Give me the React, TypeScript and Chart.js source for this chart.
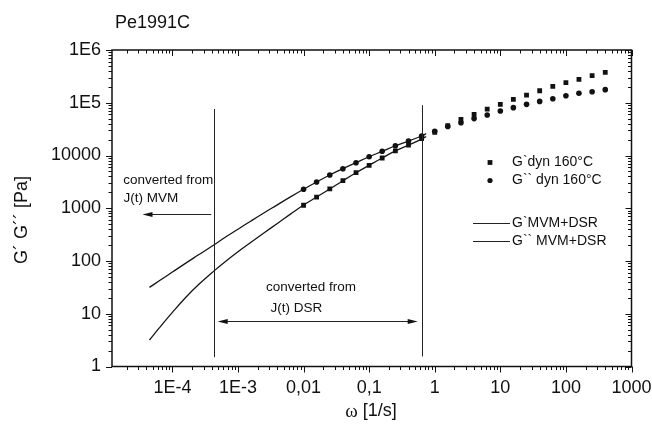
import { useEffect, useRef } from 'react';
import { Chart, registerables } from 'chart.js';

Chart.register(...registerables);

// ---------- text ----------
const TITLE = 'Pe1991C';
const X_TITLE_SYMBOL = 'ω';
const X_TITLE_UNIT = ' [1/s]';
const Y_TITLE = 'G´ G´´ [Pa]';
const legendLabels = ['G`dyn 160°C', 'G`` dyn 160°C', 'G`MVM+DSR', 'G`` MVM+DSR'];
const mvmText = ['converted from', 'J(t) MVM'];
const dsrText = ['converted from', 'J(t) DSR'];

// ---------- axes ----------
const X_MIN = 1.2e-5;
const X_MAX = 1000;
const Y_MIN = 1;
const Y_MAX = 1e6;
const xTickValues = [1e-4, 1e-3, 1e-2, 0.1, 1, 10, 100, 1000];
const xTickLabels = ['1E-4', '1E-3', '0,01', '0,1', '1', '10', '100', '1000'];
const yTickValues = [1, 10, 100, 1000, 1e4, 1e5, 1e6];
const yTickLabels = ['1', '10', '100', '1000', '10000', '1E5', '1E6'];

// ---------- data: dynamic measurements ----------
const dynFreq = [
  0.01, 0.0158, 0.0251, 0.0398, 0.0631, 0.1, 0.158, 0.251, 0.398, 0.631,
  1, 1.58, 2.51, 3.98, 6.31, 10, 15.8, 25.1, 39.8, 63.1, 100, 158, 251, 398,
];
const dynGp = [
  1140, 1630, 2320, 3330, 4720, 6520, 8970, 12200, 15800, 20900,
  27500, 36700, 48500, 60300, 75900, 93300, 116000, 140000, 169000, 204000,
  240000, 278000, 326000, 378000,
];
const dynGpp = [
  2290, 3150, 4270, 5620, 7310, 9480, 12000, 15300, 18800, 23400,
  28800, 35500, 41900, 50100, 58600, 69800, 80700, 93300, 106000, 119000,
  136000, 151000, 162000, 177000,
];

// ---------- data: MVM+DSR curves ----------
const curveFreq = [
  4.47e-5, 6.31e-5, 1e-4, 1.58e-4, 2.51e-4, 4.27e-4, 6.31e-4, 1e-3, 1.58e-3,
  2.51e-3, 3.98e-3, 6.31e-3, 0.01, 0.0158, 0.0251, 0.0398, 0.0631, 0.1,
  0.158, 0.251, 0.398, 0.631, 0.74,
];
const curveGp = [
  3.18, 5.38, 10.6, 20.1, 35.7, 64.3, 96.2, 150, 227, 342, 515, 773, 1150,
  1630, 2320, 3330, 4720, 6520, 8970, 12200, 15800, 20400, 22900,
];
const curveGpp = [
  31.6, 42.1, 61.7, 90.2, 131, 201, 279, 401, 575, 822, 1160, 1640, 2290,
  3150, 4270, 5620, 7310, 9480, 12000, 15300, 18800, 23400, 26000,
];

// ---------- annotations (data coordinates) ----------
const boundaryFreq = [4.25e-4, 0.64];
const boundaryTop = [7.6e4, 9.0e4];
const boundaryBottom = [1.5, 1.55];
const mvmArrow = [3.9e-4, 3.5e-5, 780]; // from x, to x, y
const dsrArrow = [4.9e-4, 0.55, 7.3]; // x1, x2, y
const mvmTextPos = [1.78e-5, 3330, 1.8e-5, 1565];
const dsrTextPos = [2.68e-3, 31.5, 3.12e-3, 12.7];

const INK = '#111111';
const SANS = '"Liberation Sans", Arial, Helvetica, sans-serif';
const SERIF = '"Liberation Serif", "Times New Roman", serif';
const f = (s: number) => `${s}px ${SANS}`;

function minorValues(min: number, max: number) {
  const out: number[] = [];
  for (let d = Math.floor(Math.log10(min)); d <= Math.ceil(Math.log10(max)); d++) {
    for (let k = 2; k <= 9; k++) {
      const v = k * Math.pow(10, d);
      if (v > min && v < max) out.push(v);
    }
  }
  return out;
}

function arrowHead(ctx: CanvasRenderingContext2D, x: number, y: number, dir: number) {
  ctx.beginPath();
  ctx.moveTo(x, y);
  ctx.lineTo(x - dir * 10, y - 2.6);
  ctx.lineTo(x - dir * 10, y + 2.6);
  ctx.closePath();
  ctx.fill();
}

const decorPlugin = {
  id: 'decor',
  afterDatasetsDraw(chart: any) {
    const { ctx, chartArea: ca, scales } = chart;
    const xs = scales.x;
    const ys = scales.y;
    const X = (v: number) => xs.getPixelForValue(v);
    const Y = (v: number) => ys.getPixelForValue(v);
    ctx.save();
    ctx.strokeStyle = INK;
    ctx.fillStyle = INK;

    // frame
    ctx.lineWidth = 1.5;
    ctx.strokeRect(ca.left, ca.top, ca.right - ca.left, ca.bottom - ca.top);

    // ticks
    ctx.lineWidth = 1;
    ctx.beginPath();
    const xMinor = minorValues(X_MIN, X_MAX);
    const yMinor = minorValues(Y_MIN, Y_MAX);
    const drawX = (v: number, len: number) => {
      const p = Math.round(X(v)) + 0.5;
      ctx.moveTo(p, ca.bottom);
      ctx.lineTo(p, ca.bottom + len);
      ctx.moveTo(p, ca.top);
      ctx.lineTo(p, ca.top + len);
    };
    const drawY = (v: number, len: number) => {
      const p = Math.round(Y(v)) + 0.5;
      ctx.moveTo(ca.left, p);
      ctx.lineTo(ca.left - len, p);
      ctx.moveTo(ca.right, p);
      ctx.lineTo(ca.right - len, p);
    };
    xTickValues.forEach((v) => drawX(v, 6));
    xMinor.forEach((v) => drawX(v, 3.5));
    yTickValues.forEach((v) => drawY(v, 6));
    yMinor.forEach((v) => drawY(v, 3.5));
    ctx.stroke();

    // tick labels
    ctx.font = f(18);
    ctx.textBaseline = 'middle';
    ctx.textAlign = 'center';
    xTickValues.forEach((v, i) => ctx.fillText(xTickLabels[i], X(v), ca.bottom + 22));
    ctx.textAlign = 'right';
    yTickValues.forEach((v, i) => ctx.fillText(yTickLabels[i], ca.left - 11, Y(v)));

    // title
    ctx.textAlign = 'left';
    ctx.fillText(TITLE, 115, 23);

    // y title
    ctx.save();
    ctx.translate(22, 220);
    ctx.rotate(-Math.PI / 2);
    ctx.textAlign = 'center';
    ctx.fillText(Y_TITLE, 0, 0);
    ctx.restore();

    // x title (symbol serif + unit sans)
    ctx.font = `19px ${SERIF}`;
    const w1 = ctx.measureText(X_TITLE_SYMBOL).width;
    ctx.font = f(18);
    const w2 = ctx.measureText(X_TITLE_UNIT).width;
    const sx = 371 - (w1 + w2) / 2;
    ctx.textAlign = 'left';
    ctx.font = `19px ${SERIF}`;
    ctx.fillText(X_TITLE_SYMBOL, sx, 412);
    ctx.font = f(18);
    ctx.fillText(X_TITLE_UNIT, sx + w1, 411);

    // boundary lines
    ctx.lineWidth = 1;
    ctx.strokeStyle = '#222';
    boundaryFreq.forEach((v, i) => {
      const p = Math.round(X(v)) + 0.5;
      ctx.beginPath();
      ctx.moveTo(p, Y(boundaryTop[i]));
      ctx.lineTo(p, Y(boundaryBottom[i]));
      ctx.stroke();
    });

    // arrows
    ctx.beginPath();
    const ay = Math.round(Y(mvmArrow[2])) + 0.5;
    ctx.moveTo(X(mvmArrow[0]), ay);
    ctx.lineTo(X(mvmArrow[1]) + 4, ay);
    ctx.stroke();
    arrowHead(ctx, X(mvmArrow[1]), ay, -1);
    const dy = Math.round(Y(dsrArrow[2])) + 0.5;
    ctx.beginPath();
    ctx.moveTo(X(dsrArrow[0]) + 4, dy);
    ctx.lineTo(X(dsrArrow[1]) - 4, dy);
    ctx.stroke();
    arrowHead(ctx, X(dsrArrow[0]), dy, -1);
    arrowHead(ctx, X(dsrArrow[1]), dy, 1);

    // annotation texts
    ctx.font = f(13.5);
    ctx.textAlign = 'left';
    ctx.fillText(mvmText[0], X(mvmTextPos[0]), Y(mvmTextPos[1]));
    ctx.fillText(mvmText[1], X(mvmTextPos[2]), Y(mvmTextPos[3]));
    ctx.fillText(dsrText[0], X(dsrTextPos[0]), Y(dsrTextPos[1]));
    ctx.fillText(dsrText[1], X(dsrTextPos[2]), Y(dsrTextPos[3]));

    // legend
    ctx.font = f(14);
    const lx = 490;
    const tx = 512;
    const rows = [162.5, 180.5, 223, 241];
    ctx.fillRect(lx - 2.4, rows[0] - 2.4, 4.8, 4.8);
    ctx.beginPath();
    ctx.arc(lx, rows[1], 2.6, 0, Math.PI * 2);
    ctx.fill();
    ctx.lineWidth = 1.2;
    [rows[2], rows[3]].forEach((ry) => {
      const p = Math.round(ry) + 0.5;
      ctx.beginPath();
      ctx.moveTo(473, p);
      ctx.lineTo(510, p);
      ctx.stroke();
    });
    rows.forEach((ry, i) => ctx.fillText(legendLabels[i], tx, ry));

    ctx.restore();
  },
};

export default function App() {
  const ref = useRef<HTMLCanvasElement>(null);
  useEffect(() => {
    document.body.style.margin = '0';
    document.body.style.overflow = 'hidden';
    const pts = (xs: number[], ys: number[]) => xs.map((x, i) => ({ x, y: ys[i] }));
    const chart = new Chart(ref.current as HTMLCanvasElement, {
      type: 'scatter',
      data: {
        datasets: [
          {
            label: legendLabels[0],
            data: pts(dynFreq, dynGp),
            pointStyle: 'rect',
            pointRadius: 3.4,
            backgroundColor: INK,
            borderWidth: 0,
            showLine: false,
            order: 0,
          },
          {
            label: legendLabels[1],
            data: pts(dynFreq, dynGpp),
            pointStyle: 'circle',
            pointRadius: 2.8,
            backgroundColor: INK,
            borderWidth: 0,
            showLine: false,
            order: 0,
          },
          {
            label: legendLabels[2],
            data: pts(curveFreq, curveGp),
            showLine: true,
            pointRadius: 0,
            borderColor: '#151515',
            borderWidth: 1.3,
            tension: 0.4,
            order: 1,
          },
          {
            label: legendLabels[3],
            data: pts(curveFreq, curveGpp),
            showLine: true,
            pointRadius: 0,
            borderColor: '#151515',
            borderWidth: 1.3,
            tension: 0.4,
            order: 1,
          },
        ],
      } as any,
      options: {
        responsive: false,
        animation: false,
        events: [],
        layout: { padding: { top: 50, right: 20.5, left: 0, bottom: 0 } },
        plugins: { legend: { display: false }, tooltip: { enabled: false } },
        scales: {
          x: {
            type: 'logarithmic',
            min: X_MIN,
            max: X_MAX,
            grid: { display: false },
            border: { display: false },
            ticks: { display: false },
            afterFit: (s: any) => {
              s.height = 58.5;
            },
          },
          y: {
            type: 'logarithmic',
            min: Y_MIN,
            max: Y_MAX,
            grid: { display: false },
            border: { display: false },
            ticks: { display: false },
            afterFit: (s: any) => {
              s.width = 112;
            },
          },
        },
      } as any,
      plugins: [decorPlugin],
    });
    return () => chart.destroy();
  }, []);
  return (
    <div style={{ width: 652, height: 425 }}>
      <canvas ref={ref} width={652} height={425} style={{ display: 'block' }} />
    </div>
  );
}
